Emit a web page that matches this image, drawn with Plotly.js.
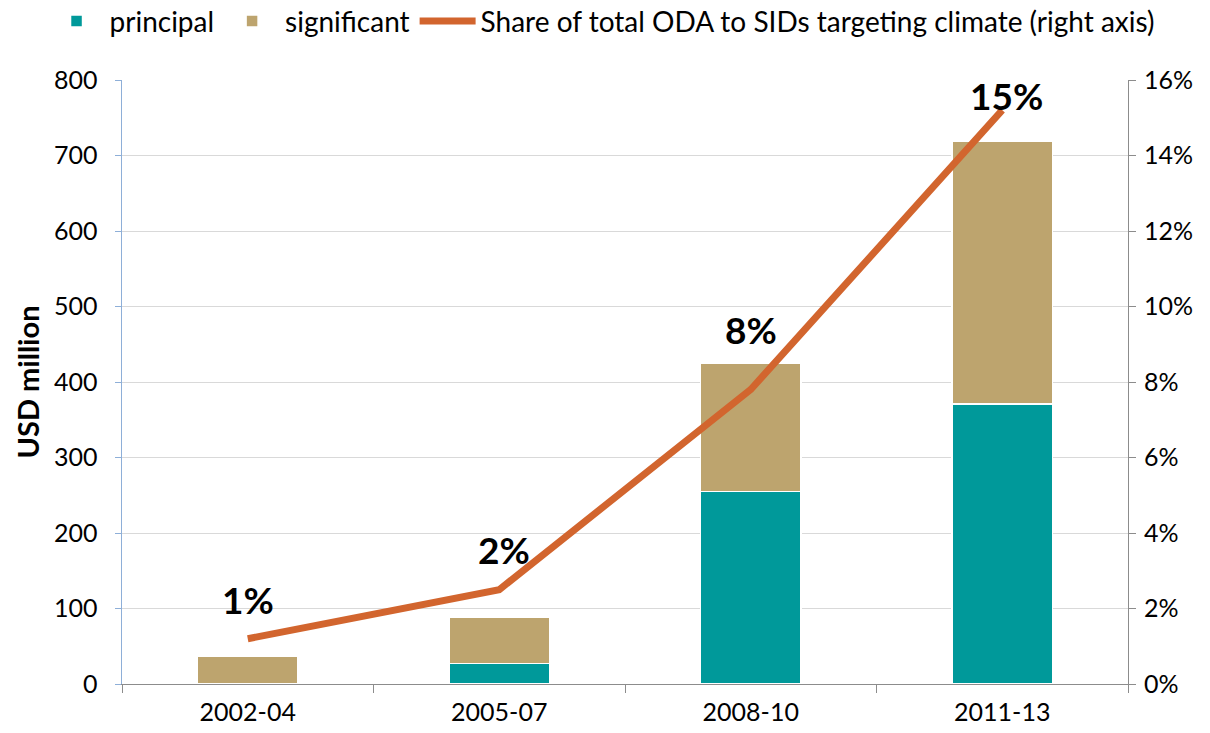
<!DOCTYPE html>
<html>
<head>
<meta charset="utf-8">
<script src="https://cdn.plot.ly/plotly-3.0.1.min.js"></script>
<style>html,body{margin:0;padding:0;background:#fff;}#chart{width:1210px;height:733px;}</style>
</head>
<body>
<div id="chart"></div>
<script>
const periods = ["2002-04", "2005-07", "2008-10", "2011-13"];
const principal = [0, 27, 255, 371];
const significant = [37, 62, 170, 348];
const sharePct = [1.2, 2.5, 7.8, 15.2];
const shareLabels = ["1%", "2%", "8%", "15%"];
const labelShiftY = [39, 40, 60, 15];
const labelShiftX = [0, 5, 0, 4];

const FONT = "Lato, 'Open Sans', sans-serif";

const traces = [
  {type: "bar", name: "principal", x: periods, y: principal,
   marker: {color: "#00999A", line: {color: "#ffffff", width: 1.5}}, width: 0.4},
  {type: "bar", name: "significant", x: periods, y: significant,
   marker: {color: "#BDA46E", line: {color: "#ffffff", width: 1.5}}, width: 0.4},
  {type: "scatter", mode: "lines", name: "Share of total ODA to SIDs targeting climate (right axis)",
   x: periods, y: sharePct, yaxis: "y2",
   line: {color: "#D2652E", width: 7}}
];

const annotations = periods.map((p, i) => ({
  x: p, y: sharePct[i], xref: "x", yref: "y2", text: "<b>" + shareLabels[i] + "</b>",
  showarrow: false, yshift: labelShiftY[i], xshift: labelShiftX[i], yanchor: "middle",
  font: {family: FONT, size: 37, color: "#000"}
}));

const layout = {
  width: 1210, height: 733,
  margin: {l: 122, r: 82, t: 80, b: 49, autoexpand: false},
  paper_bgcolor: "#fff", plot_bgcolor: "#fff",
  barmode: "stack",
  showlegend: true,
  legend: {orientation: "h", x: -0.078, xanchor: "left", y: 1.097, yanchor: "middle",
           font: {family: FONT, size: 28, color: "#000"}, traceorder: "normal",
           itemwidth: 56, bgcolor: "rgba(0,0,0,0)"},
  font: {family: FONT, color: "#000"},
  xaxis: {type: "category", showgrid: false, showline: true, linecolor: "#8c8c8c", linewidth: 1,
          ticks: "outside", tickson: "boundaries", ticklen: 8, tickcolor: "#8c8c8c",
          ticklabelstandoff: 6,
          tickfont: {family: FONT, size: 25, color: "#000"}, zeroline: false},
  yaxis: {range: [0, 800], dtick: 100, showgrid: true, gridcolor: "#d9d9d9", gridwidth: 1,
          showline: true, linecolor: "#8EAFD8", linewidth: 1.5, ticks: "outside", ticklen: 6,
          tickcolor: "#8EAFD8", zeroline: false, ticklabelstandoff: 12,
          tickfont: {family: FONT, size: 25, color: "#000"},
          title: {text: "<b>USD million</b>", font: {family: FONT, size: 29, color: "#000"}, standoff: 6}},
  yaxis2: {overlaying: "y", side: "right", range: [0, 16], dtick: 2, ticksuffix: "%",
           showgrid: false, showline: true, linecolor: "#8c8c8c", linewidth: 1, ticks: "outside",
           ticklen: 7, tickcolor: "#8c8c8c", zeroline: false, ticklabelstandoff: 3,
           tickfont: {family: FONT, size: 25, color: "#000"}},
  annotations: annotations
};

Plotly.newPlot("chart", traces, layout, {displayModeBar: false, staticPlot: true});
</script>
</body>
</html>
